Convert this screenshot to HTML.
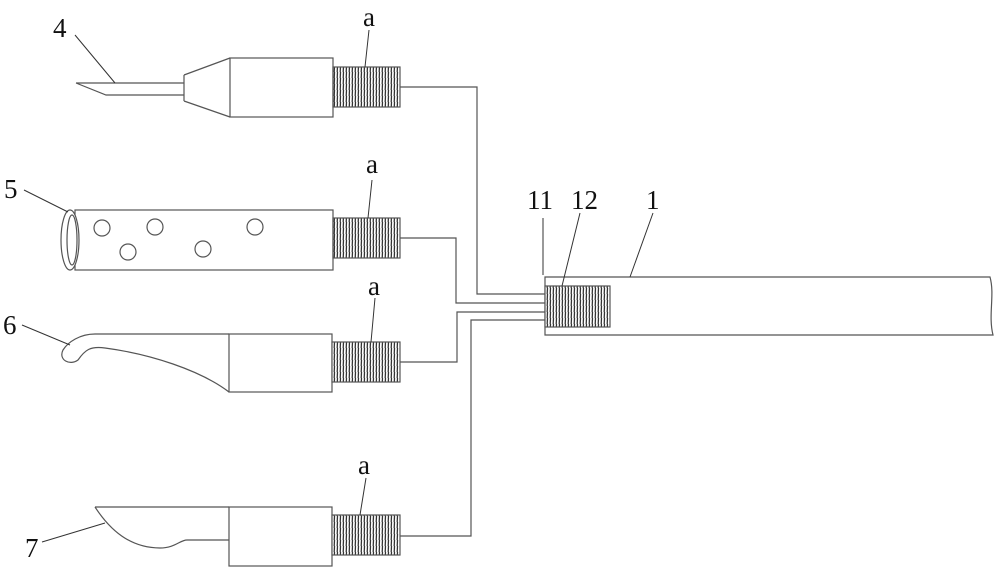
<!DOCTYPE html>
<html><head><style>body{margin:0;background:#fff}svg{display:block}text{font-family:"Liberation Serif",serif;fill:#111}</style></head><body>
<svg width="1000" height="571" viewBox="0 0 1000 571" xmlns="http://www.w3.org/2000/svg">
<defs><pattern id="h" width="3" height="6" patternUnits="userSpaceOnUse"><rect width="3" height="6" fill="#fff"/><line x1="1.5" y1="0" x2="1.2" y2="6" stroke="#333" stroke-width="1.3"/></pattern></defs>
<g fill="none" stroke="#555" stroke-width="1.2">
<path d="M76,83 L184,83 M76,83 L106,95 L184,95"/>
<path d="M184,75 L230,58 M184,101 L230,117 M184,75 L184,101"/>
<rect x="230" y="58" width="103" height="59"/>
<rect x="333" y="67" width="67" height="40" fill="url(#h)"/>
<path d="M400,87 H477 V294 H545"/>
<rect x="75" y="210" width="258" height="60"/>
<ellipse cx="70" cy="240" rx="9" ry="30" fill="#fff"/>
<ellipse cx="72" cy="240" rx="5" ry="25"/>
<circle cx="102" cy="228" r="8"/><circle cx="155" cy="227" r="8"/><circle cx="255" cy="227" r="8"/><circle cx="128" cy="252" r="8"/><circle cx="203" cy="249" r="8"/>
<rect x="333" y="218" width="67" height="40" fill="url(#h)"/>
<path d="M400,238 H456 V303 H545"/>
<path d="M95,334 H229 M95,334 C80,334 68,342 63,350 C58,360 70,366 78,360 C85,350 90,346 105,348 C150,354 200,370 229,392"/>
<rect x="229" y="334" width="103" height="58"/>
<rect x="332" y="342" width="68" height="40" fill="url(#h)"/>
<path d="M400,362 H457 V312 H545"/>
<path d="M95,507 H229 M95,507 C110,530 130,548 160,548 C175,548 180,540 187,540 H229"/>
<rect x="229" y="507" width="103" height="59"/>
<rect x="332" y="515" width="68" height="40" fill="url(#h)"/>
<path d="M400,536 H471 V320 H545"/>
<path d="M545,277 H990 C995,295 988,315 993,335 H545 Z"/>
<rect x="545" y="286" width="65" height="41" fill="url(#h)"/>
<path d="M75,35 L115,83 M24,190 L68,212 M22,325 L70,345 M42,542 L105,523 M369,30 L365,67 M372,180 L368,218 M375,298 L371,342 M366,478 L360,515 M543,218 V275 M580,213 L562,286 M653,213 L630,277" stroke="#333" stroke-width="1"/>
</g>
<g font-size="27">
<text x="53" y="37">4</text><text x="4" y="198">5</text><text x="3" y="334">6</text><text x="25" y="557">7</text>
<text x="363" y="26">a</text><text x="366" y="173">a</text><text x="368" y="295">a</text><text x="358" y="474">a</text>
<text x="527" y="209">11</text><text x="571" y="209">12</text><text x="646" y="209">1</text>
</g>
</svg>
</body></html>
